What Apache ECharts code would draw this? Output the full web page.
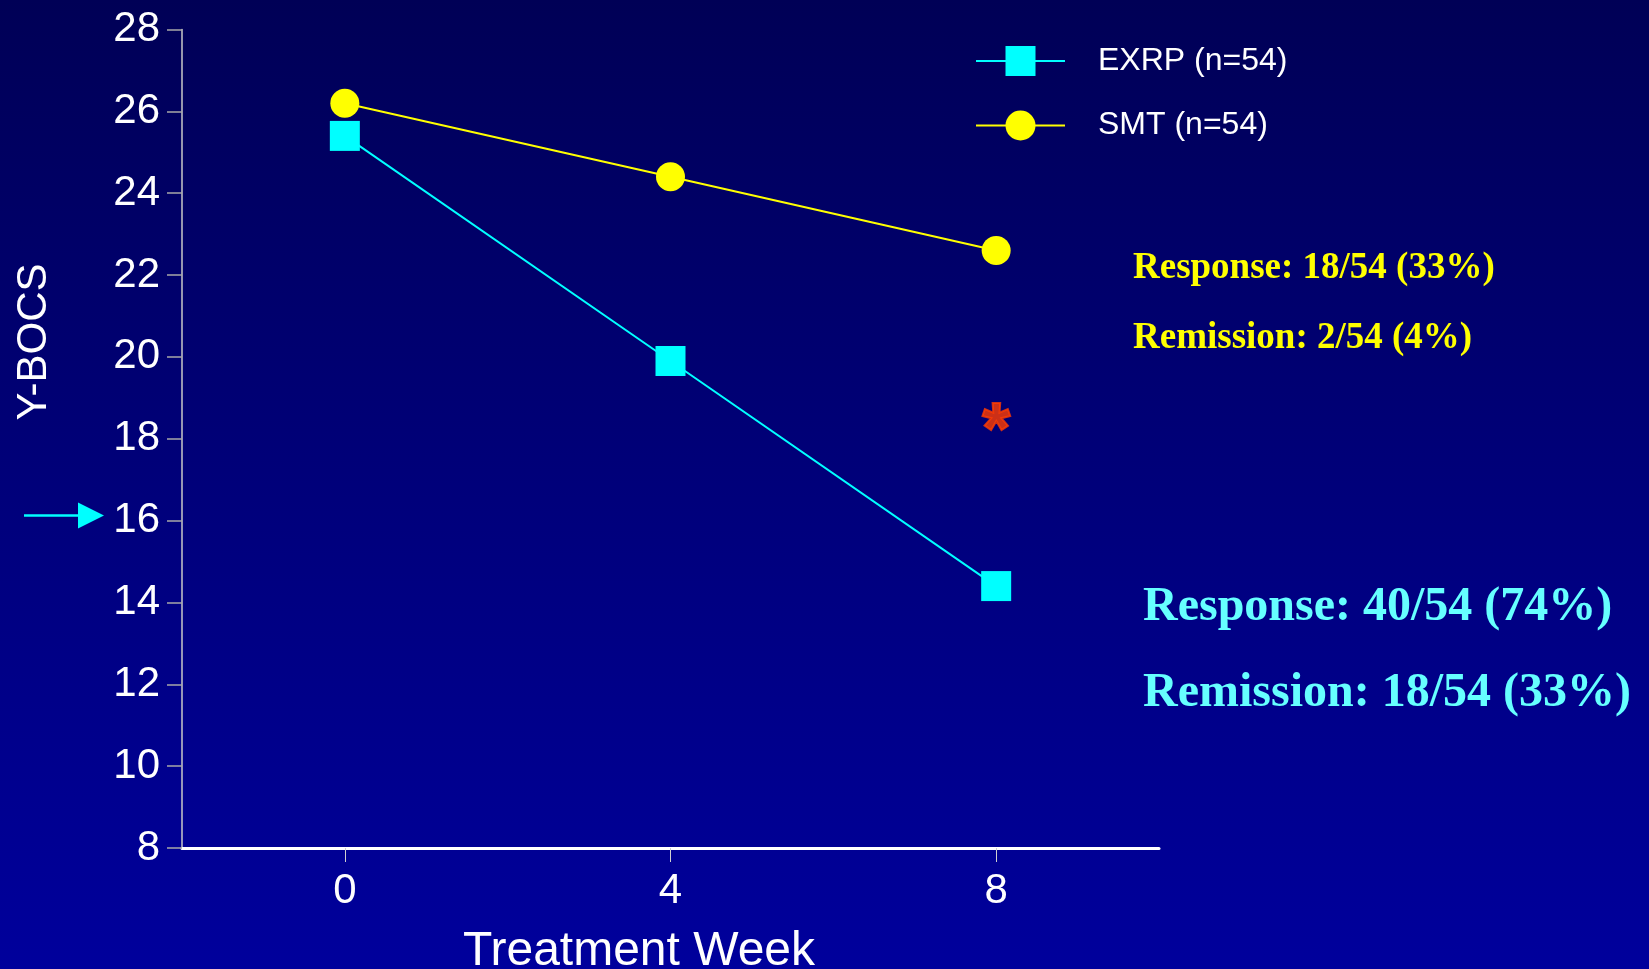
<!DOCTYPE html>
<html>
<head>
<meta charset="utf-8">
<title>Y-BOCS by Treatment Week</title>
<script src="https://cdn.jsdelivr.net/npm/echarts@6/dist/echarts.min.js"></script>
<style>
  html, body { margin: 0; padding: 0; width: 100%; height: 100%; overflow: hidden; }
  #chart {
    width: 1649px; height: 969px;
    background: linear-gradient(to bottom, #000056 0%, #00007a 50%, #00009c 100%);
  }
</style>
</head>
<body>
<div id="chart"></div>
<script>
// Mean Y-BOCS score per treatment week for each arm
const weeks = [0, 4, 8];
const exrpScores = [25.4, 19.9, 14.4];
const smtScores = [26.2, 24.4, 22.6];
const seriesNames = ['EXRP (n=54)', 'SMT (n=54)'];

// Outcome summaries shown beside the plot
const smtStats = ['Response: 18/54 (33%)', 'Remission: 2/54 (4%)'];
const exrpStats = ['Response: 40/54 (74%)', 'Remission: 18/54 (33%)'];

// Axis setup
const xTickWeeks = [0, 4, 8];
const xRange = [-2, 10];
const yRange = [8, 28];
const yStep = 2;

// Significance marker at week 8 and the response threshold score
const sigWeek = 8;
const sigScore = 18.5;
const sigMark = '*';
const thresholdScore = 16;

const FONT = "'Liberation Sans', Arial, Helvetica, sans-serif";
const SERIF = "'Liberation Serif', 'Times New Roman', serif";

const chart = echarts.init(document.getElementById('chart'), null, { renderer: 'canvas' });

const toPairs = (xs, ys) => xs.map((x, i) => [x, ys[i]]);

chart.setOption({
  animation: false,
  backgroundColor: 'transparent',
  grid: { left: 182, right: 490, top: 29.5, bottom: 121, containLabel: false },
  legend: {
    data: seriesNames,
    orient: 'vertical',
    left: 975,
    top: 45,
    padding: 0,
    itemWidth: 89,
    itemHeight: 37.5,
    itemGap: 32.5,
    selectedMode: false,
    textStyle: { color: '#ffffff', fontSize: 32, fontFamily: FONT, padding: [0, 0, 0, 28] }
  },
  xAxis: {
    type: 'value',
    min: xRange[0],
    max: xRange[1],
    splitLine: { show: false },
    axisLine: { show: true, onZero: false, lineStyle: { color: '#ffffff', width: 3 } },
    axisTick: { show: true, customValues: xTickWeeks, length: 14, lineStyle: { color: '#d0d0d0', width: 1 } },
    axisLabel: { customValues: xTickWeeks, margin: 22, color: '#ffffff', fontSize: 42, fontFamily: FONT }
  },
  yAxis: {
    type: 'value',
    min: yRange[0],
    max: yRange[1],
    interval: yStep,
    splitLine: { show: false },
    axisLine: { show: true, onZero: false, lineStyle: { color: '#c8c8c8', width: 1.5 } },
    axisTick: { show: true, length: 15, lineStyle: { color: '#a8a8a8', width: 1.5 } },
    axisLabel: { margin: 22, color: '#ffffff', fontSize: 42, fontFamily: FONT }
  },
  series: [
    {
      name: seriesNames[0],
      type: 'line',
      data: toPairs(weeks, exrpScores),
      symbol: 'rect',
      symbolSize: 30,
      color: '#00ffff',
      itemStyle: { color: '#00ffff' },
      lineStyle: { color: '#00ffff', width: 2 },
      z: 3
    },
    {
      name: seriesNames[1],
      type: 'line',
      data: toPairs(weeks, smtScores),
      symbol: 'circle',
      symbolSize: 29,
      color: '#ffff00',
      itemStyle: { color: '#ffff00' },
      lineStyle: { color: '#ffff00', width: 2 },
      z: 3
    },
    {
      name: 'significance',
      type: 'scatter',
      data: [[sigWeek, sigScore]],
      symbolSize: 1,
      itemStyle: { color: 'rgba(0,0,0,0)' },
      silent: true,
      label: {
        show: true,
        position: 'inside',
        formatter: sigMark,
        color: '#ff3c00',
        textBorderColor: '#ff3c00',
        textBorderWidth: 2,
        fontSize: 72,
        fontWeight: 'bold',
        fontFamily: FONT,
        offset: [0, 15]
      },
      z: 4
    }
  ]
});

// Arrow pointing at the response threshold on the Y axis
const thrY = chart.convertToPixel({ yAxisIndex: 0 }, thresholdScore) - 5;

const statText = (text, x, y, size, color) => ({
  type: 'text', x: x, y: y,
  style: { text: text, fill: color, fontSize: size, fontWeight: 'bold', fontFamily: SERIF,
           align: 'left', verticalAlign: 'middle' }
});

chart.setOption({
  graphic: [
    {
      type: 'text', x: 34.5, y: 342, rotation: Math.PI / 2,
      style: { text: 'Y-BOCS', fill: '#ffffff', fontSize: 42, fontFamily: FONT, align: 'center', verticalAlign: 'middle' }
    },
    {
      type: 'text', x: 639, y: 952,
      style: { text: 'Treatment Week', fill: '#ffffff', fontSize: 48, fontFamily: FONT, align: 'center', verticalAlign: 'middle' }
    },
    {
      type: 'line',
      shape: { x1: 24, y1: thrY, x2: 80, y2: thrY },
      style: { stroke: '#00ffff', lineWidth: 2.5 }
    },
    {
      type: 'polygon',
      shape: { points: [[78, thrY - 13], [104, thrY], [78, thrY + 13]] },
      style: { fill: '#00ffff' }
    },
    statText(smtStats[0], 1133, 268.5, 37, '#ffff00'),
    statText(smtStats[1], 1133, 338.5, 37, '#ffff00'),
    statText(exrpStats[0], 1143, 608, 48, '#66ffff'),
    statText(exrpStats[1], 1143, 694, 48, '#66ffff')
  ]
});
</script>
</body>
</html>
